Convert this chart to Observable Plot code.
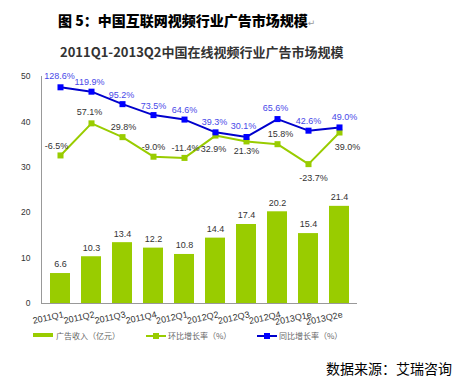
<!DOCTYPE html>
<html><head><meta charset="utf-8">
<script src="https://cdn.jsdelivr.net/npm/d3@7"></script>
<script src="https://cdn.jsdelivr.net/npm/@observablehq/plot@0.6"></script>
<style>
body{margin:0;background:#fff;}
#wrap{position:relative;width:453px;height:385px;overflow:hidden;background:#fff;}
#chart{position:absolute;left:0;top:0;}
.t{position:absolute;white-space:nowrap;}
#title{left:58px;top:10px;font:900 14px/20px "Noto Sans CJK SC",sans-serif;color:#000;}
#title span{font:normal 9px/20px "DejaVu Sans";color:#999;}
#sub{left:60px;top:43px;font:bold 13px/18px "Noto Sans CJK SC",sans-serif;color:#333;}
#source{right:1px;top:358px;font:normal 14px/20px "Noto Sans CJK SC",sans-serif;color:#000;}
.lg{top:330px;font:normal 8px/12px "Noto Sans CJK SC",sans-serif;color:#666;}
.sw{position:absolute;}
</style>
</head><body>
<div id="wrap">
  <div id="chart"></div>
  <div class="t" id="title">图 5：中国互联网视频行业广告市场规模<span>↵</span></div>
  <div class="t" id="sub">2011Q1-2013Q2中国在线视频行业广告市场规模</div>
  <div class="sw" style="left:33px;top:333px;width:20px;height:4px;background:#99cc00"></div>
  <div class="t lg" style="left:56px">广告收入（亿元）</div>
  <div class="sw" style="left:146px;top:335px;width:20px;height:2px;background:#99cc00"></div>
  <div class="sw" style="left:153px;top:333px;width:6px;height:6px;background:#99cc00"></div>
  <div class="t lg" style="left:168px">环比增长率（%）</div>
  <div class="sw" style="left:257px;top:335px;width:20px;height:2px;background:#0000cc"></div>
  <div class="sw" style="left:264px;top:333px;width:6px;height:6px;background:#0000ff"></div>
  <div class="t lg" style="left:279px">同比增长率（%）</div>
  <div class="t" id="source">数据来源：艾瑞咨询</div>
</div>
<script>
const quarters = ["2011Q1","2011Q2","2011Q3","2011Q4","2012Q1","2012Q2","2012Q3","2012Q4","2013Q1e","2013Q2e"];
const revenue = [6.6,10.3,13.4,12.2,10.8,14.4,17.4,20.2,15.4,21.4];
const qoq = [-6.5,57.1,29.8,-9.0,-11.4,32.9,21.3,15.8,-23.7,39.0];
const yoy = [128.6,119.9,95.2,73.5,64.6,39.3,30.1,65.6,42.6,49.0];
const yTicks = [0,10,20,30,40,50];
// hidden secondary axis: -300% .. 150% maps onto 0 .. 50
const pctMin = -300, pctMax = 150;

// label placement (layout only)
const qoqLabelPos = {
  "2011Q1":[-4,-9], "2011Q2":[-2,-11], "2011Q3":[1,-10], "2011Q4":[0,-10], "2012Q1":[1,-10],
  "2012Q2":[-2,14], "2012Q3":[0,10], "2012Q4":[3,-10], "2013Q1e":[5,14], "2013Q2e":[8,15]
};
const yoyLabelPos = {
  "2011Q1":[-1,-11], "2011Q2":[-2,-10], "2011Q3":[-1,-9], "2011Q4":[0,-9], "2012Q1":[0,-9],
  "2012Q2":[-1,-10], "2012Q3":[-3,-11], "2012Q4":[-2,-11], "2013Q1e":[0,-10], "2013Q2e":[5,-10]
};

const toY = p => (p - pctMin) / (pctMax - pctMin) * 50;
const data = quarters.map((q,i) => ({q, v: revenue[i], g: qoq[i], y: yoy[i]}));
const fmtPct = p => p.toFixed(1) + "%";

const labelMarks = (field, pos, color) => Object.entries(pos).map(([q,[dx,dy]]) =>
  Plot.text(data.filter(d => d.q === q), {
    x: "q", y: d => toY(d[field]), text: d => fmtPct(d[field]),
    dx, dy, fill: color, fontSize: 9
  }));

const chart = Plot.plot({
  width: 453, height: 385,
  marginTop: 76, marginBottom: 82, marginLeft: 41, marginRight: 96,
  style: {fontFamily: "'Liberation Sans', Arial, sans-serif", background: "transparent"},
  x: {domain: quarters, paddingInner: 0.37, paddingOuter: 0.16, label: null},
  y: {domain: [0,50], label: null},
  marks: [
    Plot.barY(data, {x: "q", y: "v", fill: "#99cc00"}),
    Plot.text(data, {x: "q", y: "v", text: d => d.v.toFixed(1), dy: -9, fill: "#333", fontSize: 9}),
    Plot.ruleY([0], {stroke: "#999"}),
    Plot.frame({anchor: "left", stroke: "#999"}),
    Plot.line(data, {x: "q", y: d => toY(d.g), stroke: "#99cc00", strokeWidth: 2}),
    Plot.dot(data, {x: "q", y: d => toY(d.g), symbol: "square", r: 3.4, fill: "#99cc00"}),
    Plot.line(data, {x: "q", y: d => toY(d.y), stroke: "#0000cc", strokeWidth: 2}),
    Plot.dot(data, {x: "q", y: d => toY(d.y), symbol: "square", r: 3.4, fill: "#0000ff"}),
    ...labelMarks("g", qoqLabelPos, "#333"),
    ...labelMarks("y", yoyLabelPos, "#4848e8"),
    Plot.axisY(yTicks, {tickSize: 0, tickPadding: 11, fontSize: 8.5, fill: "#333"}),
    Plot.axisX({tickSize: 0, tickPadding: 11, tickRotate: -12, fontSize: 9, fill: "#333", dx: 3})
  ]
});
document.getElementById("chart").appendChild(chart);
</script>
</body></html>
